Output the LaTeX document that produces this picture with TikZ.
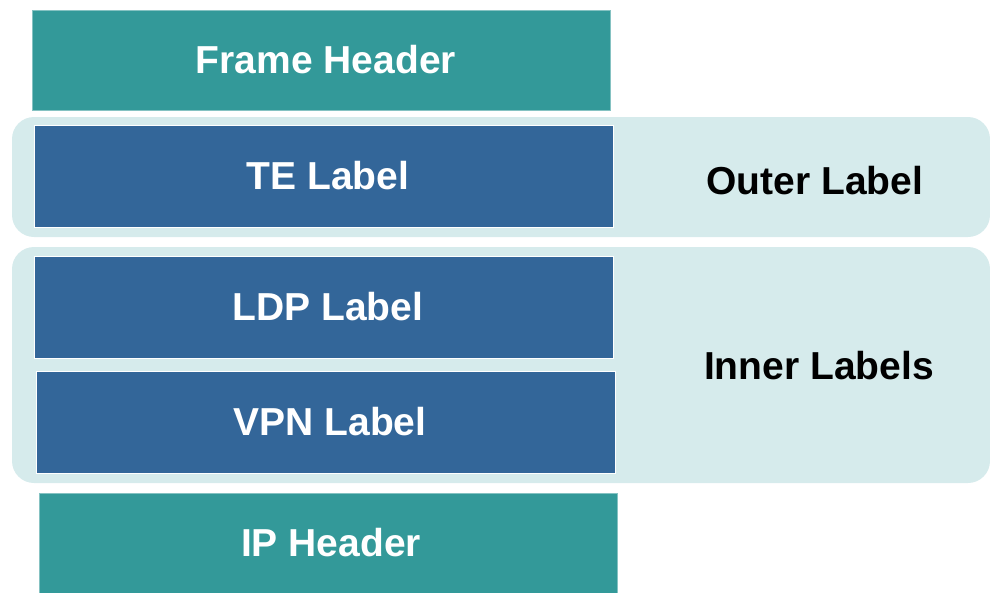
\documentclass[tikz,border=0pt]{standalone}
\usepackage{fontspec}
\setmainfont{Liberation Sans}
\definecolor{tealbox}{RGB}{51,153,153}
\definecolor{bluebox}{RGB}{51,102,153}
\definecolor{bandfill}{RGB}{214,235,236}
\begin{document}
\begin{tikzpicture}[x=1pt,y=-1pt,
  lbl/.style={font=\fontsize{39}{45}\selectfont\bfseries},
  hdrbox/.style={rectangle,fill=tealbox,draw=tealbox!60!white,line width=0.8pt,text=white,lbl,inner sep=0pt},
  lblbox/.style={rectangle,fill=bluebox,draw=white,line width=1pt,text=white,lbl,inner sep=0pt,minimum width=579pt,minimum height=102pt},
  band/.style={rectangle,fill=bandfill,draw=none,rounded corners=22pt,inner sep=0pt}]
\useasboundingbox (0,0) rectangle (990,592);
\node[band,minimum width=978pt,minimum height=120pt] (outerband) at (501,177) {};
\node[band,minimum width=978pt,minimum height=236pt] (innerband) at (501,365) {};
\node[hdrbox,minimum width=578pt,minimum height=100pt] (frame) at (321,60) {\hspace*{10pt}Frame Header};
\node[lblbox] (te) at (323.5,176) {\hspace*{9pt}TE Label};
\node[lblbox] (ldp) at (323.5,307) {\hspace*{9pt}LDP Label};
\node[lblbox] (vpn) at (325.5,422) {\hspace*{9pt}VPN Label};
\node[hdrbox,minimum width=578pt,minimum height=100pt] (ip) at (328,543) {\hspace*{6pt}IP Header};
\node[lbl,text=black] (outer) at (815,181) {Outer Label};
\node[lbl,text=black] (inner) at (819,366) {Inner Labels};
\end{tikzpicture}
\end{document}
